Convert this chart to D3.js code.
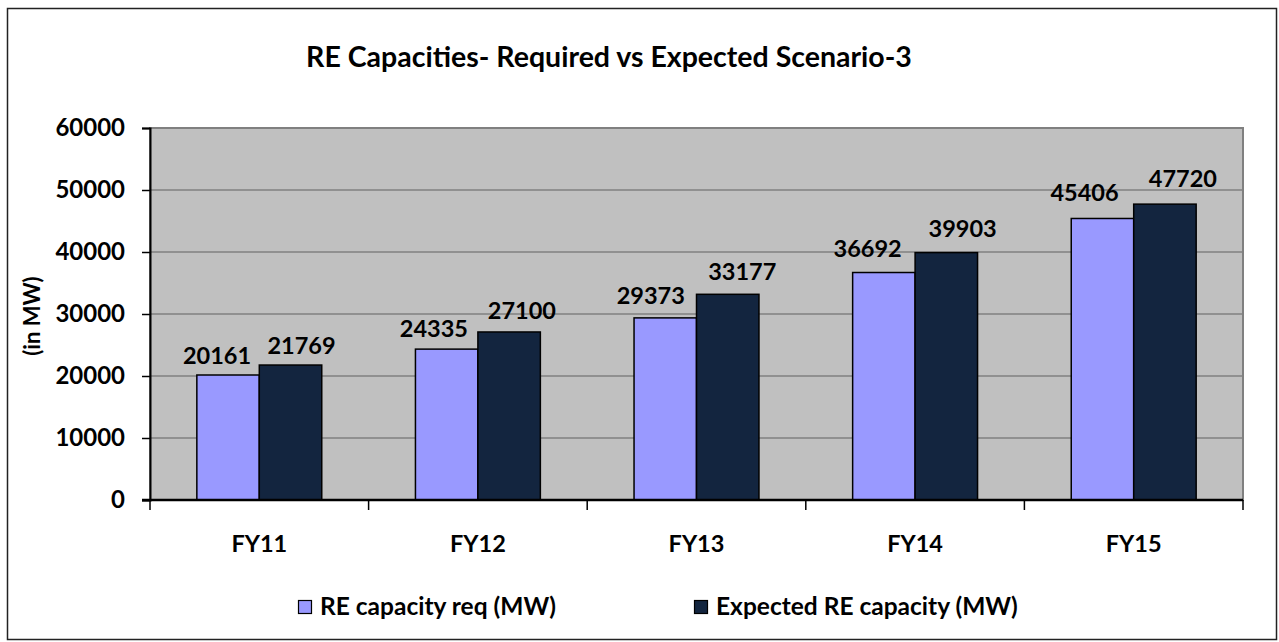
<!DOCTYPE html>
<html>
<head>
<meta charset="utf-8">
<script src="https://cdn.jsdelivr.net/npm/d3@7"></script>
<style>
  body { margin: 0; background: #fff; }
  text { font-family: Lato, "Open Sans", sans-serif; font-weight: bold; fill: #000; }
</style>
</head>
<body>
<svg id="chart" width="1279" height="642"></svg>
<script>
// chart data
var categories = ["FY11", "FY12", "FY13", "FY14", "FY15"];
var seriesNames = ["RE capacity req (MW)", "Expected RE capacity (MW)"];
var reqValues = [20161, 24335, 29373, 36692, 45406];
var expValues = [21769, 27100, 33177, 39903, 47720];
var yTicks = [0, 10000, 20000, 30000, 40000, 50000, 60000];
var colors = ["#9999FF", "#13253F"];

var svg = d3.select("#chart");

// outer frame
svg.append("rect")
    .attr("x", 7.5).attr("y", 8.5)
    .attr("width", 1269).attr("height", 631)
    .style("fill", "none")
    .style("stroke", "#222")
    .style("stroke-width", 1.5);

var plot = {left: 150, top: 128, right: 1243, bottom: 500};

var x = d3.scaleBand()
    .domain(categories)
    .range([plot.left, plot.right]);

// gap width 150% -> each bar = band / 3.5
var barW = x.bandwidth() / 3.5;

var y = d3.scaleLinear()
    .domain([0, 60000])
    .range([plot.bottom, plot.top]);

// plot background
svg.append("rect")
    .attr("x", plot.left).attr("y", plot.top)
    .attr("width", plot.right - plot.left)
    .attr("height", plot.bottom - plot.top)
    .style("fill", "#C0C0C0")
    .style("stroke", "#808080")
    .style("stroke-width", 2);

// gridlines
svg.append("g")
    .selectAll("line")
    .data(yTicks.filter(function(d){ return d > 0; }))
    .enter()
    .append("line")
    .attr("x1", plot.left).attr("x2", plot.right)
    .attr("y1", function(d){ return y(d); })
    .attr("y2", function(d){ return y(d); })
    .style("stroke", "#808080")
    .style("stroke-width", 1.5);

// bars
var rows = categories.map(function(c, i){
    return {cat: c, i: i, vals: [reqValues[i], expValues[i]]};
});

var groups = svg.append("g").selectAll("g")
    .data(rows)
    .enter()
    .append("g");

groups.selectAll("rect")
    .data(function(d){ return d.vals.map(function(v, s){ return {cat: d.cat, i: d.i, s: s, v: v}; }); })
    .enter()
    .append("rect")
    .attr("x", function(d){ return x(d.cat) + x.bandwidth()/2 - barW + d.s*barW; })
    .attr("y", function(d){ return y(d.v); })
    .attr("width", barW)
    .attr("height", function(d){ return y(0) - y(d.v); })
    .style("fill", function(d){ return colors[d.s]; })
    .style("stroke", "#000")
    .style("stroke-width", 1.5);

// value labels, pushed apart a little like excel does
groups.selectAll("text")
    .data(function(d){ return d.vals.map(function(v, s){ return {cat: d.cat, i: d.i, s: s, v: v}; }); })
    .enter()
    .append("text")
    .attr("x", function(d){
        var cx = x(d.cat) + x.bandwidth()/2 - barW + d.s*barW + barW/2;
        var push = 11 + d.i*1.75;
        return d.s === 0 ? cx - push : cx + push;
    })
    .attr("y", function(d){ return y(d.v) - (11 + d.i*1.5); })
    .attr("text-anchor", "middle")
    .style("font-size", "23.5px")
    .text(function(d){ return d.v; });

// y axis
var yAxis = d3.axisLeft(y)
    .tickValues(yTicks)
    .tickSize(8)
    .tickPadding(17)
    .tickFormat(d3.format("d"));

var gy = svg.append("g")
    .attr("transform", "translate(" + plot.left + ",0)")
    .call(yAxis);
gy.select(".domain").style("stroke", "#000").style("stroke-width", 2);
gy.selectAll(".tick line").style("stroke", "#000").style("stroke-width", 1.5);
gy.selectAll(".tick text")
    .style("font-family", "Lato, sans-serif")
    .style("font-weight", "bold")
    .style("font-size", "24px");

// x axis: ticks on category boundaries
svg.append("line")
    .attr("x1", plot.left - 8).attr("x2", plot.right)
    .attr("y1", plot.bottom).attr("y2", plot.bottom)
    .style("stroke", "#000").style("stroke-width", 2.5);

var bounds = categories.map(function(c){ return x(c); }).concat([plot.right]);
svg.append("g").selectAll("line")
    .data(bounds)
    .enter()
    .append("line")
    .attr("x1", function(d){ return d; }).attr("x2", function(d){ return d; })
    .attr("y1", plot.bottom).attr("y2", plot.bottom + 10)
    .style("stroke", "#000").style("stroke-width", 1.5);

svg.append("g").selectAll("text")
    .data(categories)
    .enter()
    .append("text")
    .attr("x", function(d){ return x(d) + x.bandwidth()/2; })
    .attr("y", 552)
    .attr("text-anchor", "middle")
    .style("font-size", "23.5px")
    .text(function(d){ return d; });

// title
svg.append("text")
    .attr("x", 609).attr("y", 67)
    .attr("text-anchor", "middle")
    .style("font-size", "28.5px")
    .text("RE Capacities- Required vs Expected Scenario-3");

// y axis title
svg.append("text")
    .attr("transform", "translate(40,316) rotate(-90)")
    .attr("text-anchor", "middle")
    .style("font-size", "22px")
    .text("(in MW)");

// legend
var legendX = [298, 694];
var legend = svg.append("g").selectAll("g")
    .data(seriesNames)
    .enter()
    .append("g")
    .attr("transform", function(d, i){ return "translate(" + legendX[i] + ",600)"; });

legend.append("rect")
    .attr("x", 0.5).attr("y", 0.5)
    .attr("width", 13).attr("height", 13)
    .style("fill", function(d, i){ return colors[i]; })
    .style("stroke", "#000")
    .style("stroke-width", 1.2);

legend.append("text")
    .attr("x", 22).attr("y", 15)
    .style("font-size", "24.5px")
    .text(function(d){ return d; });
</script>
</body>
</html>
